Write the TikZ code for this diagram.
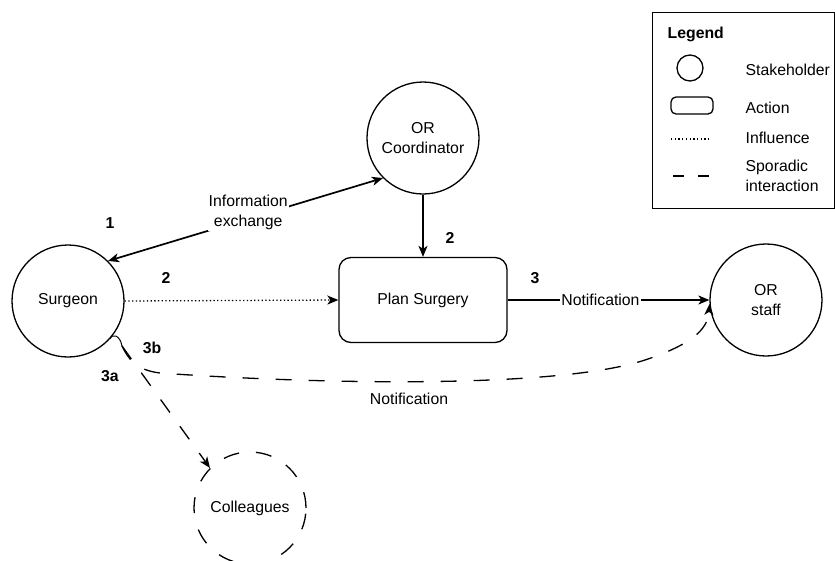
\documentclass[tikz,border=0pt]{standalone}
\usepackage{fontspec}
\setmainfont{Liberation Sans}
\usetikzlibrary{arrows.meta}
\begin{document}
\begin{tikzpicture}[x=1pt,y=-1pt,
  font=\fontsize{15.8}{20}\selectfont,
  line width=1.3pt,
  >={Stealth[length=11pt,width=9pt,inset=3pt]},
  stake/.style={circle, draw, minimum size=112pt, inner sep=0pt, align=center},
  actionbox/.style={rectangle, draw, rounded corners=12pt, minimum width=168pt, minimum height=85pt, inner sep=0pt},
  num/.style={font=\fontsize{15.8}{20}\selectfont\bfseries, inner sep=0pt},
  influence/.style={dash pattern=on 1.3pt off 2.4pt},
  sporadic/.style={dash pattern=on 16pt off 17pt},
  lbl/.style={fill=white, inner sep=1pt, align=center},
  legtext/.style={anchor=west, inner sep=0pt, align=left}
]
\useasboundingbox (0,0) rectangle (835,560);

% stakeholders and action
\node[stake] (surg) at (68,301) {Surgeon};
\node[stake] (coord) at (423,138) {OR\\Coordinator};
\node[stake] (staff) at (766,300) {OR\\staff};
\node[stake, sporadic] (coll) at (250,508) {Colleagues};
\node[actionbox] (plan) at (423,300) {Plan Surgery};

% connectors
\draw[<->, line width=1.7pt] (surg.45) -- (coord.225)
  node[lbl, pos=0.51, yshift=6pt] (infolbl) {Information\\exchange};
\draw[->] (coord.south) -- (plan.north);
\draw[->, influence] (surg.east) -- (plan.west);
\draw[->] (plan.east) -- (staff.west)
  node[lbl, pos=0.46] (notif1) {Notification};

% sporadic interactions
\coordinate (s3) at (surg.-42);
\draw[line width=1pt] (s3) .. controls (112,333) and (120,335) .. (122,346) coordinate (j);
\draw[->, sporadic] (j) -- (coll.135);
\draw[->, sporadic] (j) .. controls (128,358) and (135,370) .. (160,373)
  .. controls (330,385) and (560,388) .. (645,360)
  .. controls (690,345) and (708,330) .. (staff.184);
\node[inner sep=0pt] (notif2) at (409,399) {Notification};

% step numbers
\node[num] (n1) at (110,223) {1};
\node[num] (n2a) at (166,278) {2};
\node[num] (n2b) at (450,238) {2};
\node[num] (n3) at (535,278) {3};
\node[num] (n3b) at (152,348) {3b};
\node[num] (n3a) at (110,376) {3a};

% legend
\node[draw, rectangle, minimum width=182pt, minimum height=196pt, inner sep=0pt, anchor=north west] (legend) at (652,12) {};
\node[num, anchor=west] (legtitle) at (667,34) {Legend};
\node[circle, draw, minimum size=26pt, inner sep=0pt] (legcirc) at (690,68) {};
\node[rectangle, draw, rounded corners=5pt, minimum width=42pt, minimum height=17pt, inner sep=0pt] (legrect) at (692,105.5) {};
\draw[influence] (671,139) -- (711,139);
\draw[dash pattern=on 11pt off 14pt] (673,176) -- (710,176);
\node[legtext] (lt1) at (745,70) {Stakeholder};
\node[legtext] (lt2) at (745,108) {Action};
\node[legtext] (lt3) at (745,138) {Influence};
\node[legtext] (lt4) at (745,176) {Sporadic\\interaction};
\end{tikzpicture}
\end{document}
